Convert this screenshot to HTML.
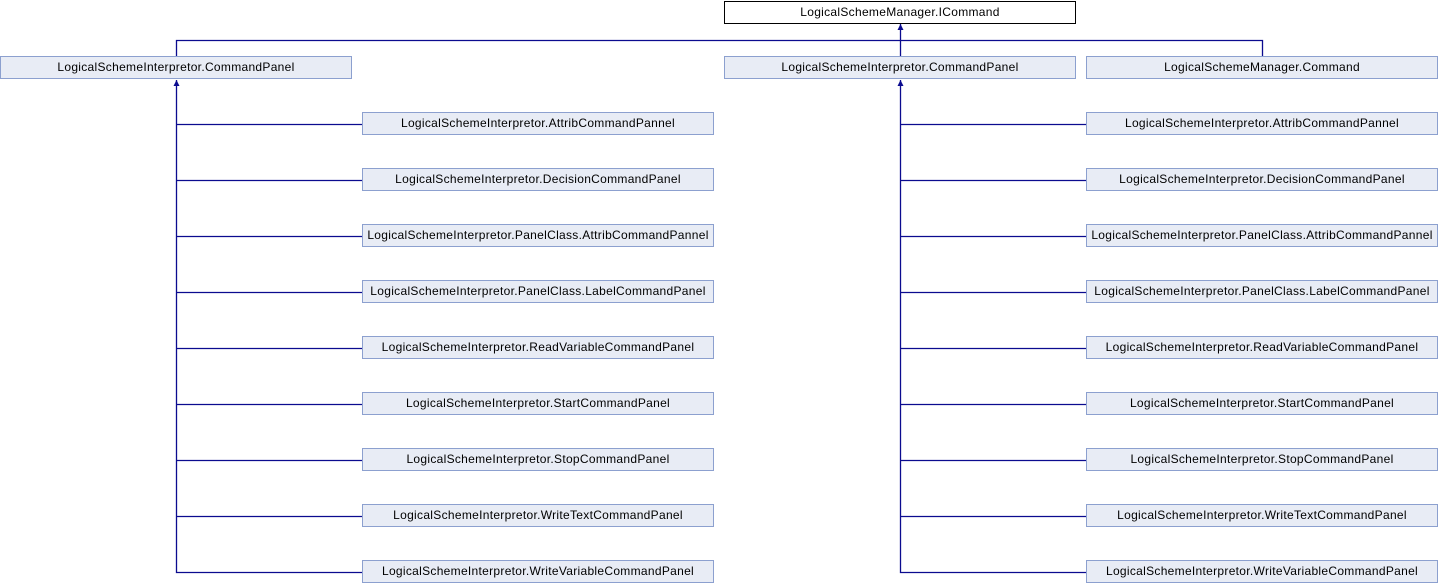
<!DOCTYPE html>
<html><head><meta charset="utf-8"><style>
html,body{margin:0;padding:0;background:#fff;width:1438px;height:584px;overflow:hidden}
svg text{font-family:"Liberation Sans",Arial,sans-serif;font-size:12px;letter-spacing:0.3px;fill:#000}
</style></head><body>
<svg width="1438" height="584" xmlns="http://www.w3.org/2000/svg">
<g stroke="#0b0b8f" stroke-width="1.3" fill="none">
<path d="M176.5 56 V40.5 H1262.5 V56"/>
<path d="M900.5 24 V56"/>
<path d="M176.5 80 V572.5 H362"/>
<path d="M900.5 80 V572.5 H1086"/>
<path d="M176.5 124.5H362M176.5 180.5H362M176.5 236.5H362M176.5 292.5H362M176.5 348.5H362M176.5 404.5H362M176.5 460.5H362M176.5 516.5H362"/>
<path d="M900.5 124.5H1086M900.5 180.5H1086M900.5 236.5H1086M900.5 292.5H1086M900.5 348.5H1086M900.5 404.5H1086M900.5 460.5H1086M900.5 516.5H1086"/>
</g>
<g fill="#0b0b8f">
<path d="M900.5 24 L897.5 30 H903.5Z"/>
<path d="M176.5 80 L173.5 86 H179.5Z"/>
<path d="M900.5 80 L897.5 86 H903.5Z"/>
</g>
<rect x="724.5" y="1.5" width="351" height="22" fill="#fff" stroke="#000"/>
<text x="900" y="16" text-anchor="middle">LogicalSchemeManager.ICommand</text>
<g fill="#e8ecf5" stroke="#8ca0cf">
<rect x="0.5" y="56.5" width="351" height="22"/>
<rect x="724.5" y="56.5" width="351" height="22"/>
<rect x="1086.5" y="56.5" width="351" height="22"/>
<rect x="362.5" y="112.5" width="351" height="22"/><rect x="1086.5" y="112.5" width="351" height="22"/>
<rect x="362.5" y="168.5" width="351" height="22"/><rect x="1086.5" y="168.5" width="351" height="22"/>
<rect x="362.5" y="224.5" width="351" height="22"/><rect x="1086.5" y="224.5" width="351" height="22"/>
<rect x="362.5" y="280.5" width="351" height="22"/><rect x="1086.5" y="280.5" width="351" height="22"/>
<rect x="362.5" y="336.5" width="351" height="22"/><rect x="1086.5" y="336.5" width="351" height="22"/>
<rect x="362.5" y="392.5" width="351" height="22"/><rect x="1086.5" y="392.5" width="351" height="22"/>
<rect x="362.5" y="448.5" width="351" height="22"/><rect x="1086.5" y="448.5" width="351" height="22"/>
<rect x="362.5" y="504.5" width="351" height="22"/><rect x="1086.5" y="504.5" width="351" height="22"/>
<rect x="362.5" y="560.5" width="351" height="22"/><rect x="1086.5" y="560.5" width="351" height="22"/>
</g>
<g text-anchor="middle">
<text x="176" y="71">LogicalSchemeInterpretor.CommandPanel</text>
<text x="900" y="71">LogicalSchemeInterpretor.CommandPanel</text>
<text x="1262" y="71">LogicalSchemeManager.Command</text>
<text x="538" y="127">LogicalSchemeInterpretor.AttribCommandPannel</text><text x="1262" y="127">LogicalSchemeInterpretor.AttribCommandPannel</text>
<text x="538" y="183">LogicalSchemeInterpretor.DecisionCommandPanel</text><text x="1262" y="183">LogicalSchemeInterpretor.DecisionCommandPanel</text>
<text x="538" y="239">LogicalSchemeInterpretor.PanelClass.AttribCommandPannel</text><text x="1262" y="239">LogicalSchemeInterpretor.PanelClass.AttribCommandPannel</text>
<text x="538" y="295">LogicalSchemeInterpretor.PanelClass.LabelCommandPanel</text><text x="1262" y="295">LogicalSchemeInterpretor.PanelClass.LabelCommandPanel</text>
<text x="538" y="351">LogicalSchemeInterpretor.ReadVariableCommandPanel</text><text x="1262" y="351">LogicalSchemeInterpretor.ReadVariableCommandPanel</text>
<text x="538" y="407">LogicalSchemeInterpretor.StartCommandPanel</text><text x="1262" y="407">LogicalSchemeInterpretor.StartCommandPanel</text>
<text x="538" y="463">LogicalSchemeInterpretor.StopCommandPanel</text><text x="1262" y="463">LogicalSchemeInterpretor.StopCommandPanel</text>
<text x="538" y="519">LogicalSchemeInterpretor.WriteTextCommandPanel</text><text x="1262" y="519">LogicalSchemeInterpretor.WriteTextCommandPanel</text>
<text x="538" y="575">LogicalSchemeInterpretor.WriteVariableCommandPanel</text><text x="1262" y="575">LogicalSchemeInterpretor.WriteVariableCommandPanel</text>
</g>
</svg>
</body></html>
